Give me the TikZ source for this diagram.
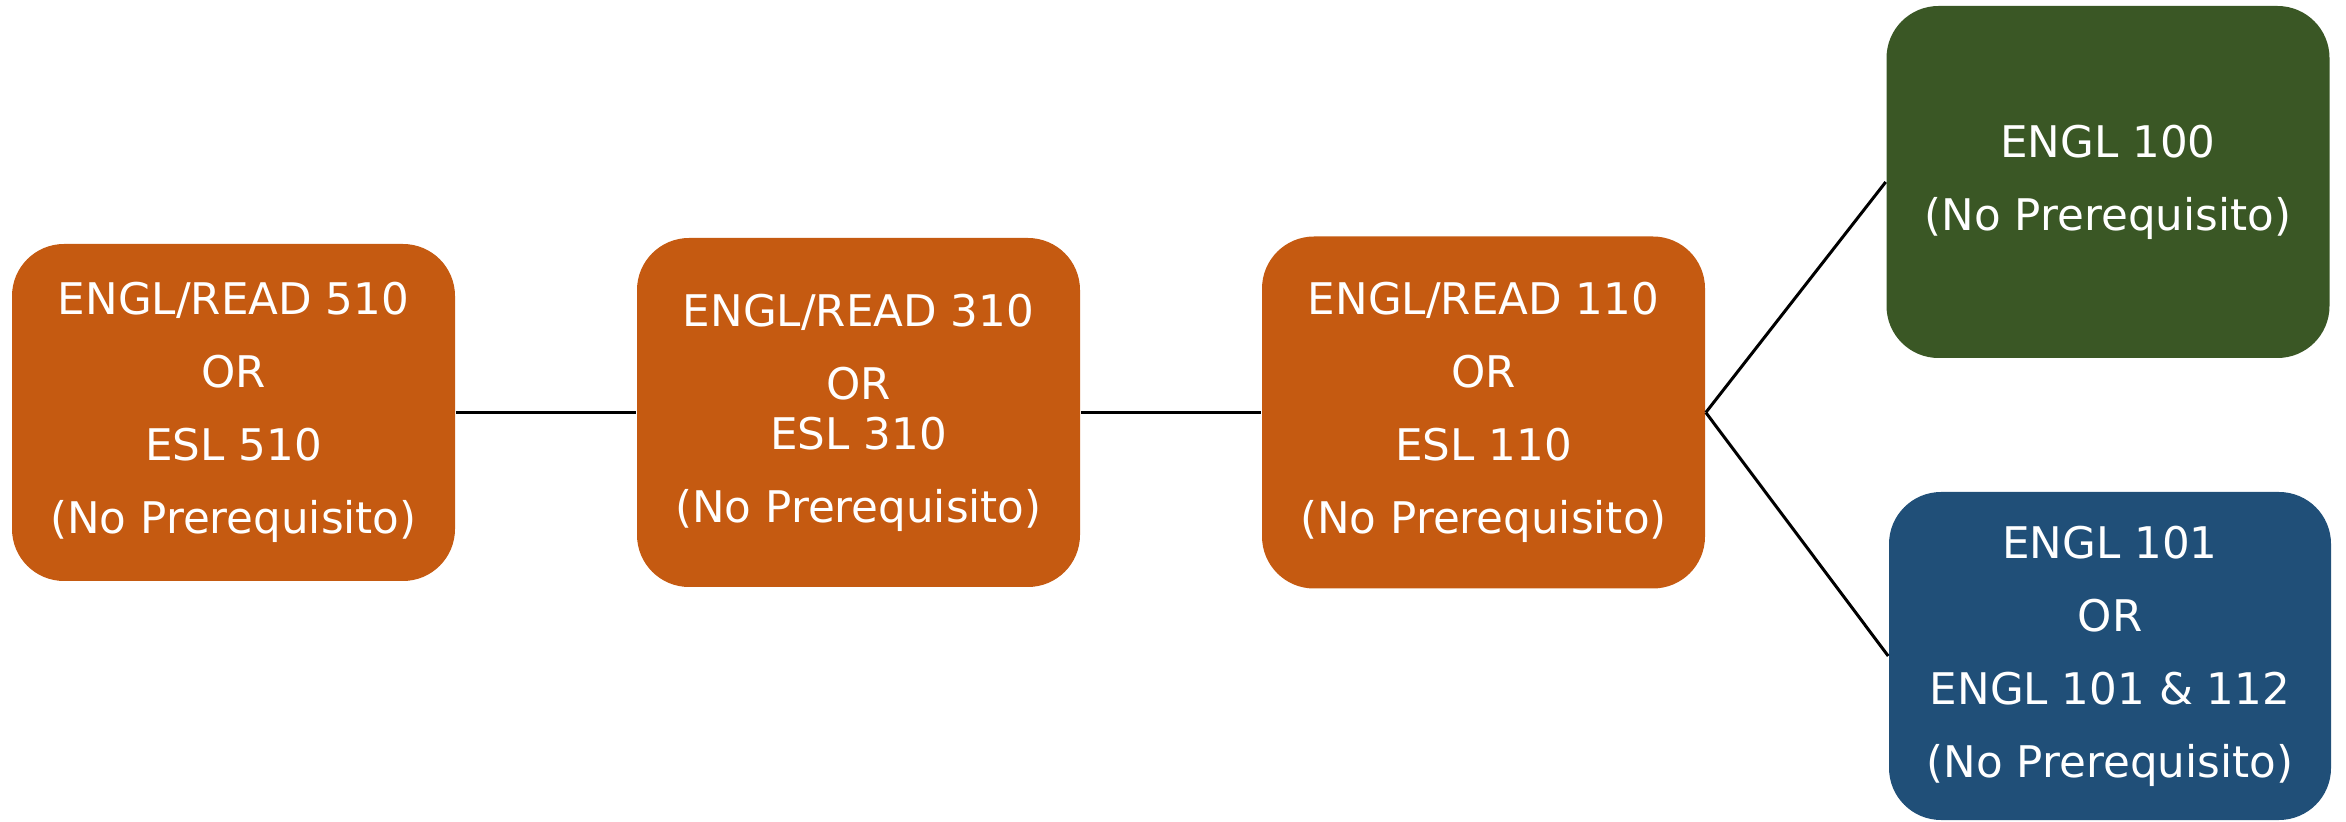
\documentclass[tikz,border=0pt]{standalone}
\usepackage{fontspec}
\setmainfont{DejaVu Sans}
\definecolor{orng}{HTML}{C55A11}
\definecolor{grn}{HTML}{3A5725}
\definecolor{blu}{HTML}{204F78}
\begin{document}
\begin{tikzpicture}[x=0.25pt,y=-0.25pt,
  course/.style={rounded corners=13pt, text=white, align=center, inner sep=0pt,
    font=\fontsize{10.9}{18.25}\selectfont},
  link/.style={draw=black, line width=0.75pt}]
\useasboundingbox (0,0) rectangle (2346,822);
\node[course, fill=orng, minimum width=110.75pt, minimum height=84.25pt] (b1) at (233.5,412.5)
  {ENGL/READ 510\\OR\\ESL 510\\(No Prerequisito)};
\node[course, fill=orng, minimum width=110.75pt, minimum height=87.25pt] (b2) at (858.5,412.5)
  {ENGL/READ 310\\OR\\[-5.75pt]ESL 310\\(No Prerequisito)};
\node[course, fill=orng, minimum width=110.75pt, minimum height=88pt] (b3) at (1483.5,412.5)
  {ENGL/READ 110\\OR\\ESL 110\\(No Prerequisito)};
\node[course, fill=grn, minimum width=110.75pt, minimum height=88pt] (g) at (2108,182)
  {ENGL 100\\(No Prerequisito)};
\node[course, fill=blu, minimum width=110.5pt, minimum height=82pt] (bl) at (2110,656)
  {ENGL 101\\OR\\ENGL 101 \& 112\\(No Prerequisito)};
\draw[link] (b1.east) -- (b2.west);
\draw[link] (b2.east) -- (b3.west);
\draw[link] (b3.east) -- (g.west);
\draw[link] (b3.east) -- (bl.west);
\end{tikzpicture}
\end{document}
